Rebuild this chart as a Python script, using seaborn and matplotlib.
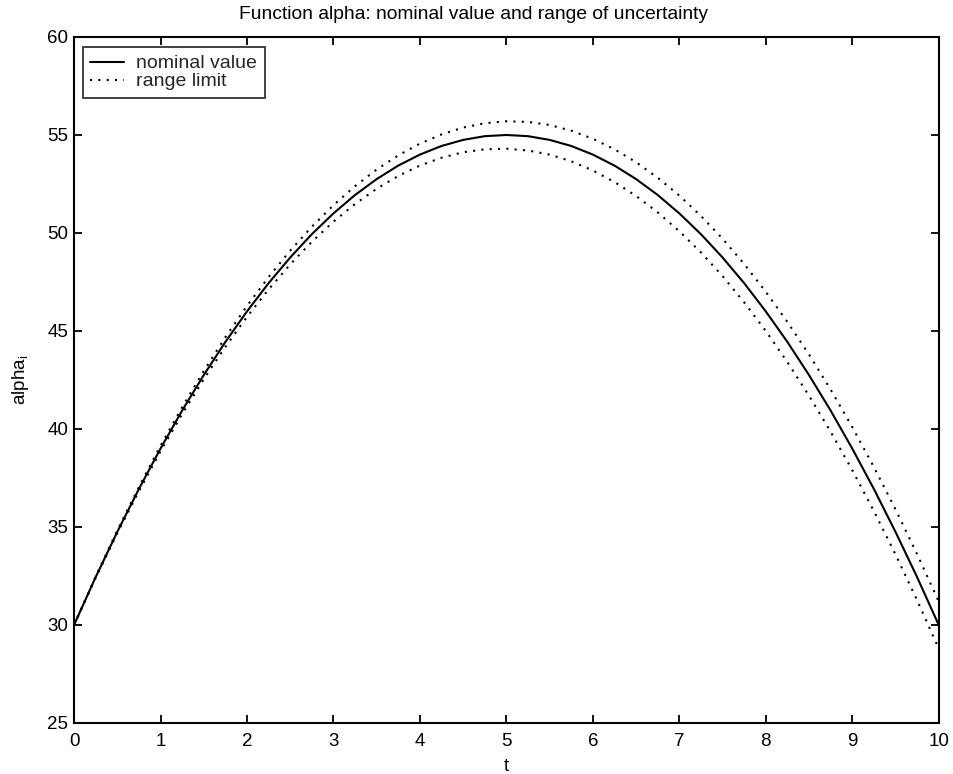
import numpy as np
import pandas as pd
import matplotlib
matplotlib.use("Agg")
import matplotlib.pyplot as plt
from matplotlib.lines import Line2D
import seaborn as sns

# time grid
t = [0.0, 0.25, 0.5, 0.75, 1.0, 1.25, 1.5, 1.75, 2.0, 2.25, 2.5, 2.75, 3.0,
     3.25, 3.5, 3.75, 4.0, 4.25, 4.5, 4.75, 5.0, 5.25, 5.5, 5.75, 6.0, 6.25,
     6.5, 6.75, 7.0, 7.25, 7.5, 7.75, 8.0, 8.25, 8.5, 8.75, 9.0, 9.25, 9.5,
     9.75, 10.0]

# nominal value of alpha
nominal = [30.00, 32.44, 34.75, 36.94, 39.00, 40.94, 42.75, 44.44, 46.00,
           47.44, 48.75, 49.94, 51.00, 51.94, 52.75, 53.44, 54.00, 54.44,
           54.75, 54.94, 55.00, 54.94, 54.75, 54.44, 54.00, 53.44, 52.75,
           51.94, 51.00, 49.94, 48.75, 47.44, 46.00, 44.44, 42.75, 40.94,
           39.00, 36.94, 34.75, 32.44, 30.00]

# upper limit of the uncertainty range
upper = [30.00, 32.47, 34.82, 37.04, 39.14, 41.11, 42.96, 44.68, 46.28,
         47.75, 49.10, 50.32, 51.42, 52.39, 53.24, 53.96, 54.56, 55.03,
         55.38, 55.60, 55.70, 55.67, 55.51, 55.22, 54.81, 54.27, 53.61,
         52.82, 51.91, 50.87, 49.71, 48.42, 47.00, 45.46, 43.80, 42.01,
         40.10, 38.06, 35.90, 33.61, 31.20]

# lower limit of the uncertainty range
lower = [30.00, 32.40, 34.68, 36.83, 38.86, 40.76, 42.54, 44.19, 45.72,
         47.12, 48.40, 49.55, 50.58, 51.48, 52.26, 52.91, 53.44, 53.84,
         54.12, 54.27, 54.30, 54.21, 54.00, 53.66, 53.19, 52.60, 51.89,
         51.05, 50.09, 49.01, 47.80, 46.46, 45.00, 43.41, 41.70, 39.86,
         37.90, 35.81, 33.60, 31.26, 28.80]

x_ticks = [0, 1, 2, 3, 4, 5, 6, 7, 8, 9, 10]
y_ticks = [25, 30, 35, 40, 45, 50, 55, 60]

legend_labels = ["nominal value", "range limit"]

sns.set_theme(style="white")
plt.rcParams["font.family"] = ["Liberation Sans", "DejaVu Sans"]
plt.rcParams["mathtext.fontset"] = "custom"
plt.rcParams["mathtext.rm"] = "Liberation Sans"
plt.rcParams["mathtext.it"] = "Liberation Sans"

FS = 13.5

df = pd.DataFrame({"t": t, "nominal": nominal, "upper": upper, "lower": lower})

fig = plt.figure(figsize=(9.54, 7.74), dpi=100)
ax = fig.add_axes([0.0776, 0.0659, 0.9064, 0.8863])

lw = 1.5
dot_style = (0, (1, 3.0))
sns.lineplot(data=df, x="t", y="nominal", ax=ax, color="black", linewidth=lw,
             linestyle="-", estimator=None, sort=False)
sns.lineplot(data=df, x="t", y="upper", ax=ax, color="black", linewidth=lw,
             linestyle=dot_style, estimator=None, sort=False)
sns.lineplot(data=df, x="t", y="lower", ax=ax, color="black", linewidth=lw,
             linestyle=dot_style, estimator=None, sort=False)

ax.set_xlim(0, 10)
ax.set_ylim(25, 60)
ax.set_xticks(x_ticks)
ax.set_yticks(y_ticks)
ax.set_xticklabels([str(v) for v in x_ticks])
ax.set_yticklabels([str(v) for v in y_ticks])

for side in ["left", "right", "top", "bottom"]:
    ax.spines[side].set_visible(True)
    ax.spines[side].set_color("black")
    ax.spines[side].set_linewidth(1.5)

ax.tick_params(axis="both", which="major", direction="in", length=6,
               width=1.3, color="black", labelsize=FS, labelcolor="black",
               top=True, right=True, bottom=True, left=True)
ax.tick_params(axis="x", pad=7)
ax.tick_params(axis="y", pad=4)

ax.set_title("Function alpha: nominal value and range of uncertainty",
             fontsize=13.9, color="black", pad=13, x=0.4624)
ax.set_xlabel("t", fontsize=FS, color="black", labelpad=6)
ax.set_ylabel("alpha$_{\\mathrm{i}}$", fontsize=FS, color="black", labelpad=12)

handles = [Line2D([0], [0], color="black", linewidth=lw, linestyle="-"),
           Line2D([0], [0], color="black", linewidth=lw, linestyle=dot_style)]
leg = ax.legend(handles, legend_labels, loc="upper left",
                bbox_to_anchor=(0.0104, 0.9847), fontsize=14, frameon=True,
                fancybox=False, shadow=False, borderpad=0.38,
                handlelength=1.75, handletextpad=0.62, labelspacing=0.02,
                borderaxespad=0)
leg.get_frame().set_edgecolor("black")
leg.get_frame().set_linewidth(1.3)
leg.get_frame().set_facecolor("white")

fig.savefig("out.png", dpi=100)
